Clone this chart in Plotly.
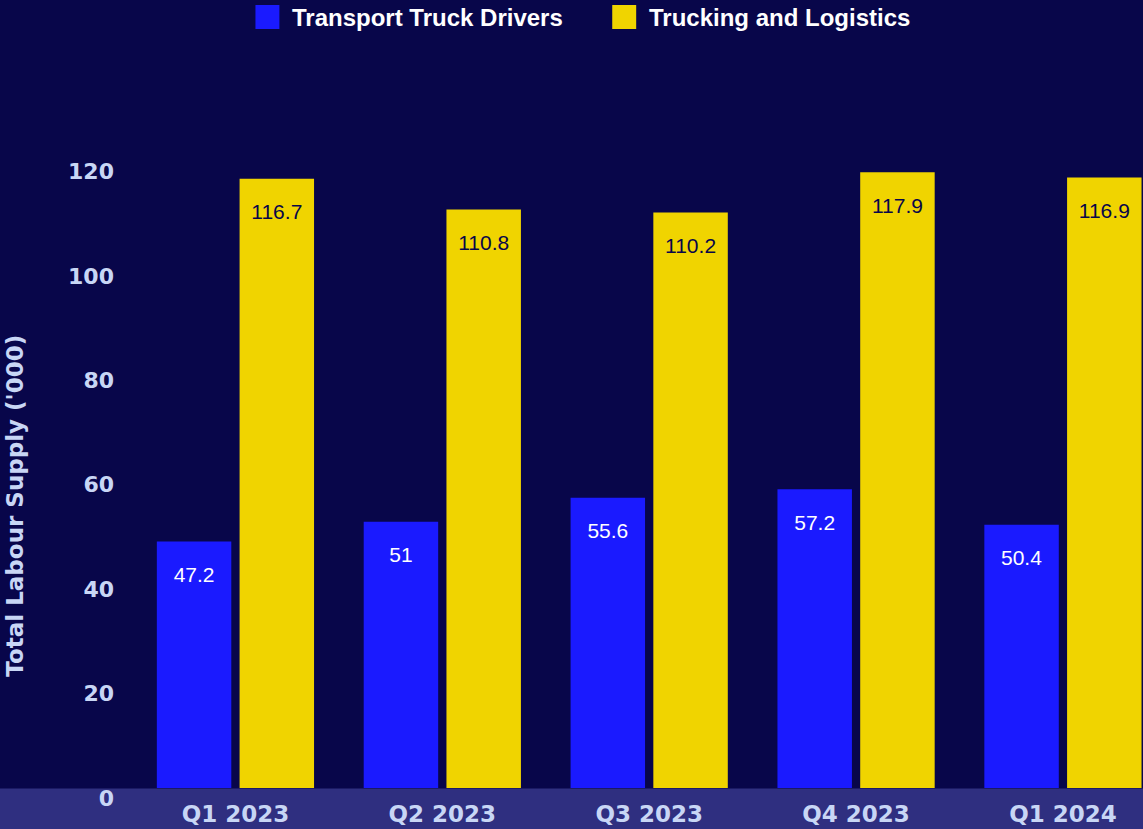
import plotly.graph_objects as go

# data
quarters = ["Q1 2023", "Q2 2023", "Q3 2023", "Q4 2023", "Q1 2024"]
truck_drivers = [47.2, 51, 55.6, 57.2, 50.4]
trucking_logistics = [116.7, 110.8, 110.2, 117.9, 116.9]
y_ticks = [0, 20, 40, 60, 80, 100, 120]

BG = "#08064a"
BLUE = "#1a1aff"
YELLOW = "#f0d400"
BAND = "#2f2f80"
LABEL = "#c8d6f5"
FONT = "Liberation Sans, Arial, sans-serif"
HEAVY = "DejaVu Sans, Verdana, sans-serif"

# small blank first line pushes the value down from the bar top
bar_text = "<span style='font-size:11px'>\u00a0</span><br>%{y}"

fig = go.Figure()
fig.add_trace(go.Bar(x=quarters, y=truck_drivers, name="Transport Truck Drivers",
                     marker_color=BLUE, marker_line_width=0,
                     texttemplate=bar_text, textposition="inside", insidetextanchor="end",
                     textangle=0, constraintext="none",
                     insidetextfont=dict(color="white", size=21, family=FONT),
                     showlegend=False))
fig.add_trace(go.Bar(x=quarters, y=trucking_logistics, name="Trucking and Logistics",
                     marker_color=YELLOW, marker_line_width=0,
                     texttemplate=bar_text, textposition="inside", insidetextanchor="end",
                     textangle=0, constraintext="none",
                     insidetextfont=dict(color=BG, size=21, family=FONT),
                     showlegend=False))

# band under the category labels
fig.add_shape(type="rect", xref="paper", yref="paper", x0=-0.2, x1=1.05, y0=-0.1, y1=0,
              fillcolor=BAND, line=dict(color=BG, width=1), layer="below")

# hand-made legend (bigger squares than plotly's)
legend_items = [("Transport Truck Drivers", BLUE, 0.1221), ("Trucking and Logistics", YELLOW, 0.4750)]
for name, col, x0 in legend_items:
    fig.add_shape(type="rect", xref="paper", yref="paper", x0=x0, x1=x0 + 0.0237,
                  y0=1.1713, y1=1.2083, fillcolor=col, line_width=0)
    fig.add_annotation(text=name, xref="paper", yref="paper", x=x0 + 0.0346, y=1.1898,
                       xanchor="left", yanchor="middle", showarrow=False,
                       font=dict(color="white", size=24, family=FONT, weight="bold"))

fig.add_annotation(text="Total Labour Supply ('000)", xref="paper", yref="paper",
                   x=-0.1152, y=0.435, textangle=-90, showarrow=False,
                   xanchor="center", yanchor="middle",
                   font=dict(color=LABEL, size=23, family=HEAVY, weight="bold"))

fig.update_xaxes(range=[-0.5, 4.387], showgrid=False, zeroline=False, showline=False,
                 tickfont=dict(color=LABEL, size=23, family=HEAVY, weight="bold"),
                 ticks="", ticklabelstandoff=10)
fig.update_yaxes(range=[0, 124.1], tickvals=y_ticks, showgrid=False, zeroline=False,
                 showline=False, ticks="", ticklabelshift=10, ticklabelstandoff=17,
                 tickfont=dict(color=LABEL, size=22, family=HEAVY, weight="bold"))

fig.update_layout(width=1143, height=829, barmode="group", bargap=0.2, bargroupgap=0.1,
                  paper_bgcolor=BG, plot_bgcolor=BG, template=None,
                  font_family=FONT,
                  margin=dict(l=131.5, r=0, t=140, b=41))

# the page has a default 8px body margin; drop it so the figure sits at 0,0
fig.write_html("out.html", config={"displayModeBar": False},
               post_script="document.body.style.margin='0';")
